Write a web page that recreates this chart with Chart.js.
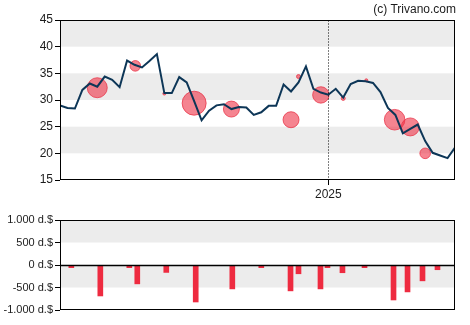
<!DOCTYPE html>
<html><head><meta charset="utf-8">
<script src="https://cdn.jsdelivr.net/npm/chart.js@4.4.1/dist/chart.umd.min.js"></script>
<style>
html,body{margin:0;padding:0;background:#fff;overflow:hidden}
#wrap{position:relative;width:470px;height:325px}
#c1{position:absolute;left:0;top:0}
#c2{position:absolute;left:0;top:200px}
#copy{position:absolute;right:14px;top:2px;font:12px "Liberation Sans",Arial,sans-serif;line-height:14px;color:#1c1c1c}
</style></head><body>
<div id="wrap">
<canvas id="c1" width="470" height="200"></canvas>
<canvas id="c2" width="470" height="125"></canvas>
<div id="copy">(c) Trivano.com</div>
</div>
<script>
// ---- data (x = week index) ----
const priceValues = [29.0,28.5,28.4,31.9,33.1,32.5,34.4,33.8,32.4,37.4,36.6,36.1,37.3,38.6,31.3,31.3,34.3,33.3,29.8,26.2,28.0,29.0,29.2,28.3,28.7,28.6,27.2,27.7,28.9,28.9,32.9,31.6,33.3,36.3,32.1,31.4,31.0,32.1,30.45,33.0,33.6,33.5,33.2,31.5,28.5,27.2,23.75,24.6,25.4,22.3,20.1,19.6,19.1,21.1];
const bubbleX = [5.0,10.1,14.0,18.0,23.0,31.0,32.0,35.0,38.0,41.1,44.9,47.0,49.0];
const bubbleY = [32.3,36.4,31.2,29.4,28.3,26.3,34.4,30.95,30.3,33.7,26.3,24.95,20.0];
const bubbleR = [10,5.3,1.5,12,8,8,2,8.2,2,1.5,10.3,9,5.3];
const barX = [1.52,5.41,9.30,10.37,14.26,18.21,23.12,27.01,30.93,32.0,34.95,35.89,37.90,40.86,44.75,46.63,48.64,50.65];
const barValues = [-60,-688,-60,-419,-165,-822,-531,-60,-575,-195,-531,-60,-172,-60,-777,-598,-352,-105];
const yearTickPos = 36;
const yearLabel = '2025';
const priceTicks = [15,20,25,30,35,40,45];
const volumeTicks = [-1000,-500,0,500,1000];

Chart.defaults.font.family = '"Liberation Sans", Arial, sans-serif';
Chart.defaults.color = '#1c1c1c';

function bandsPlugin(bands, zeroLine, dotted){
  return {
    id:'decor',
    beforeDraw(chart){
      const ctx=chart.ctx, a=chart.chartArea, y=chart.scales.y;
      ctx.save();
      ctx.fillStyle='#ececec';
      bands.forEach(([lo,hi])=>{
        const t=y.getPixelForValue(hi), b=y.getPixelForValue(lo);
        ctx.fillRect(a.left,t,a.right-a.left,b-t);
      });
      ctx.restore();
    },
    afterDraw(chart){
      const ctx=chart.ctx, a=chart.chartArea;
      ctx.save();
      ctx.strokeStyle='#000'; ctx.lineWidth=1;
      const L=Math.round(a.left)+0.5, R=Math.round(a.right)-0.5, T=Math.round(a.top)+0.5, B=Math.round(a.bottom)-0.5;
      ctx.strokeRect(L,T,R-L,B-T);
      if(zeroLine){
        const zy=Math.round(chart.scales.y.getPixelForValue(0))+0.5;
        ctx.beginPath(); ctx.moveTo(L,zy); ctx.lineTo(R,zy); ctx.lineWidth=1.5; ctx.stroke();
      }
      if(dotted){
        const dx=Math.round(chart.scales.x.getPixelForValue(yearTickPos))+0.5;
        ctx.lineWidth=1; ctx.setLineDash([1,2]);
        ctx.beginPath(); ctx.moveTo(dx,T); ctx.lineTo(dx,B); ctx.stroke();
      }
      ctx.restore();
    }
  };
}

new Chart(document.getElementById('c1'),{
  type:'line',
  data:{datasets:[
    {type:'line',data:priceValues.map((v,i)=>({x:i,y:v})),borderColor:'#0d3657',borderWidth:2,pointRadius:0,tension:0,order:1},
    {type:'bubble',data:bubbleX.map((x,i)=>({x:x,y:bubbleY[i],r:bubbleR[i]})),backgroundColor:'rgba(238,50,70,0.6)',borderColor:'rgba(232,50,70,0.75)',borderWidth:1,order:2}
  ]},
  options:{
    responsive:false,devicePixelRatio:1,animation:false,
    layout:{padding:{top:20,right:15,left:0,bottom:0}},
    plugins:{legend:{display:false},tooltip:{enabled:false}},
    scales:{
      x:{type:'linear',min:0,max:priceValues.length-1,offset:false,
        afterBuildTicks:s=>{s.ticks=[{value:yearTickPos}];},
        afterFit:s=>{s.height=20;},
        ticks:{callback:()=>yearLabel,font:{size:12},padding:2,maxRotation:0},
        grid:{drawOnChartArea:false,drawTicks:true,tickLength:5,color:'#000'},
        border:{display:false}},
      y:{min:15,max:45,
        afterBuildTicks:s=>{s.ticks=priceTicks.map(v=>({value:v}));},
        afterFit:s=>{s.width=60;},
        ticks:{font:{size:12},padding:2},
        grid:{drawOnChartArea:false,drawTicks:true,tickLength:5,color:'#000'},
        border:{display:false}}
    }
  },
  plugins:[bandsPlugin([[40,45],[30,35],[20,25]],false,true)]
});

function fmtVol(v){
  const s=Math.abs(v)>=1000 ? (v<0?'-':'')+Math.floor(Math.abs(v)/1000)+'.'+String(Math.abs(v)%1000).padStart(3,'0') : String(v);
  return s+' d.$';
}

new Chart(document.getElementById('c2'),{
  type:'bar',
  data:{datasets:[
    {data:barX.map((x,i)=>({x:x,y:barValues[i]})),backgroundColor:'#ee2b40',barThickness:5}
  ]},
  options:{
    responsive:false,devicePixelRatio:1,animation:false,
    layout:{padding:{top:20,right:15,left:0,bottom:15}},
    plugins:{legend:{display:false},tooltip:{enabled:false}},
    scales:{
      x:{type:'linear',min:0,max:priceValues.length-1,offset:false,display:false},
      y:{min:-1000,max:1000,
        afterBuildTicks:s=>{s.ticks=volumeTicks.map(v=>({value:v}));},
        afterFit:s=>{s.width=60;},
        ticks:{font:{size:11},padding:2,callback:v=>fmtVol(v)},
        grid:{drawOnChartArea:false,drawTicks:true,tickLength:5,color:'#000'},
        border:{display:false}}
    }
  },
  plugins:[bandsPlugin([[500,1000],[-500,0]],true,false)]
});
</script>
</body></html>
